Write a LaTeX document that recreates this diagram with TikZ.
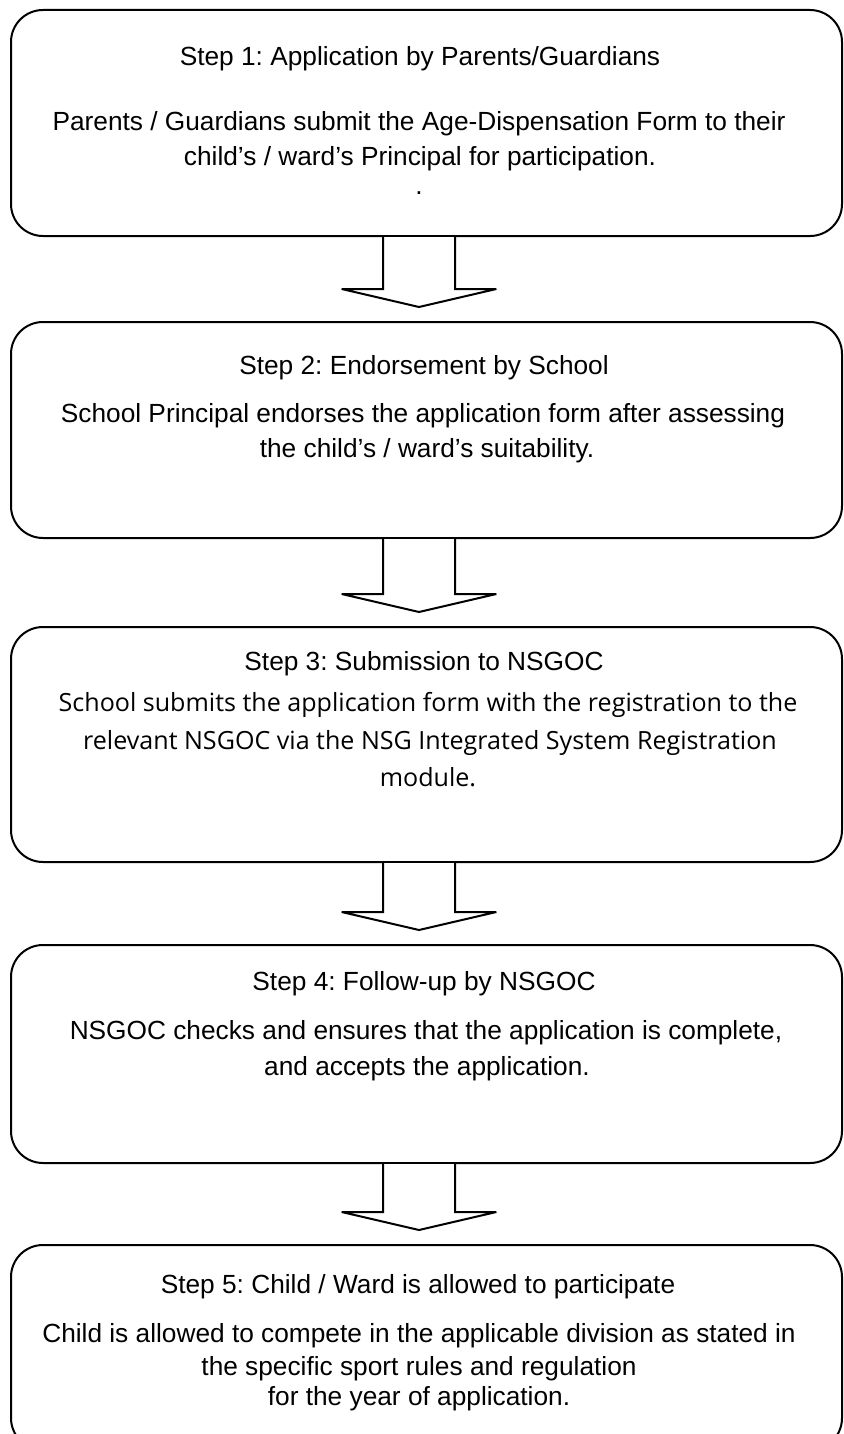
\documentclass[tikz,border=0pt]{standalone}
\usepackage{fontspec}
\setmainfont{Liberation Sans}
\newfontfamily\segoe{Open Sans}
\usetikzlibrary{calc}
\frenchspacing
\tikzset{
  stepbox/.style={draw=black, line width=1.5pt, rounded corners=24pt,
    minimum width=623.25pt, minimum height=#1, inner sep=0pt},
  txt/.style={font=\fontsize{19.7pt}{26pt}\selectfont, anchor=base, inner sep=0pt},
  segtxt/.style={font=\segoe\fontsize{18.8pt}{26pt}\selectfont, anchor=base, inner sep=0pt},
  arrowline/.style={draw=black, line width=1.5pt, line join=miter, miter limit=4, fill=white},
}
% block arrow from the bottom of box #1 towards the top of box #2
\newcommand{\blockarrow}[2]{%
  \draw[arrowline] let \p1=(#1.south), \p2=(#2.north) in
    (\x1-5.625pt-27pt,\y1) -- (\x1-5.625pt-27pt,\y2+24pt)
    -- (\x1-5.625pt-58pt,\y2+24pt) -- (\x1-5.625pt,\y2+10.5pt)
    -- (\x1-5.625pt+58pt,\y2+24pt) -- (\x1-5.625pt+27pt,\y2+24pt)
    -- (\x1-5.625pt+27pt,\y1);}
\begin{document}
\begin{tikzpicture}[x=0.75pt,y=-0.75pt]
\useasboundingbox (0,0) rectangle (843,1434);
% boxes
\node[stepbox=169.5pt] (b1) at (426.5,123) {};
\node[stepbox=162pt]   (b2) at (426.5,430) {};
\node[stepbox=176.25pt](b3) at (426.5,744.5) {};
\node[stepbox=163.5pt] (b4) at (426.5,1054) {};
\node[stepbox=153.75pt](b5) at (426.5,1347.5) {};
% arrows
\blockarrow{b1}{b2}
\blockarrow{b2}{b3}
\blockarrow{b3}{b4}
\blockarrow{b4}{b5}
% box 1 text
\node[txt] (t1a) at (420,66)  {Step 1: Application by Parents/Guardians};
\node[txt] (t1b) at (419,131) {Parents / Guardians submit the Age-Dispensation Form to their};
\node[txt] (t1c) at (420,166) {child’s / ward’s Principal for participation.};
\node[txt] (t1d) at (419,195) {.};
% box 2 text
\node[txt] (t2a) at (424,374) {Step 2: Endorsement by School};
\node[txt] (t2b) at (423,422) {School Principal endorses the application form after assessing};
\node[txt] (t2c) at (427,457) {the child’s / ward’s suitability.};
% box 3 text
\node[txt] (t3a) at (424,670) {Step 3: Submission to NSGOC};
\node[segtxt] (t3b) at (428,711) {School submits the application form with the registration to the};
\node[segtxt] (t3c) at (430,749) {relevant NSGOC via the NSG Integrated System Registration};
\node[segtxt] (t3d) at (428,786) {module.};
% box 4 text
\node[txt] (t4a) at (424,990)  {Step 4: Follow-up by NSGOC};
\node[txt] (t4b) at (426,1039) {NSGOC checks and ensures that the application is complete,};
\node[txt] (t4c) at (427,1075) {and accepts the application.};
% box 5 text
\node[txt] (t5a) at (418,1293) {Step 5: Child / Ward is allowed to participate};
\node[txt] (t5b) at (419,1342) {Child is allowed to compete in the applicable division as stated in};
\node[txt] (t5c) at (419,1375) {the specific sport rules and regulation};
\node[txt] (t5d) at (419,1405) {for the year of application.};
\end{tikzpicture}
\end{document}
